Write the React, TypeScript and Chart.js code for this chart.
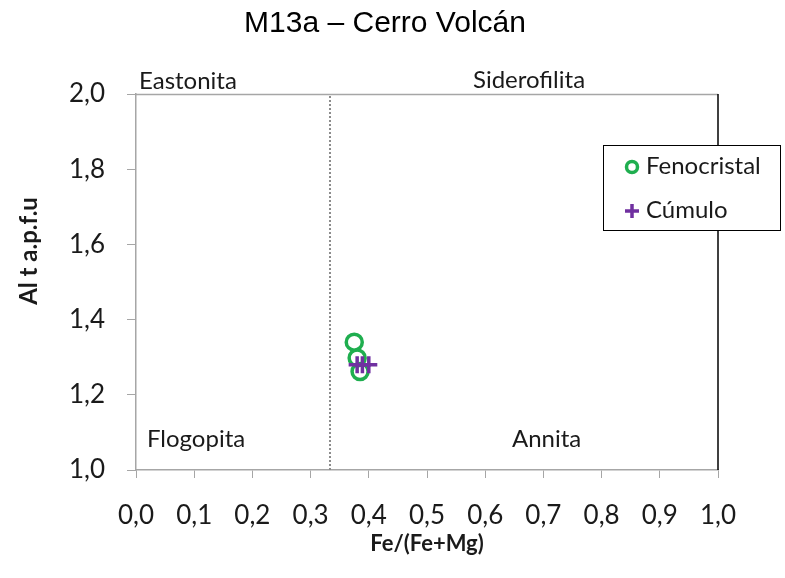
import React, { useEffect, useRef } from "react";
import { Chart, registerables } from "chart.js";

Chart.register(...registerables);

const TITLE = "M13a – Cerro Volcán";
const X_TITLE = "Fe/(Fe+Mg)";
const Y_TITLE = "Al t a.p.f.u";

const fenoX = [0.375, 0.38, 0.385];
const fenoY = [1.34, 1.298, 1.262];
const cumuloX = [0.38, 0.389, 0.4];
const cumuloY = [1.28, 1.28, 1.28];
const dividerX = [1 / 3, 1 / 3];
const dividerY = [1.0, 2.0];

const regionLabels = ["Eastonita", "Siderofilita", "Flogopita", "Annita"];
const legendLabels = ["Fenocristal", "Cúmulo"];

const GREEN = "#1fae4f";
const PURPLE = "#7030a0";
const TEXT = "#1a1a1a";
const FONT = "Lato, 'Open Sans', sans-serif";

const fmt = (v: number) => Number(v).toFixed(1).replace(".", ",");

const overlay = {
  id: "overlay",
  afterDraw(chart: any) {
    const { ctx, chartArea } = chart;
    const { left, right, top, bottom } = chartArea;
    ctx.save();
    // title
    ctx.fillStyle = "#000";
    ctx.font = "30px 'Liberation Sans', Arial, sans-serif";
    ctx.textAlign = "center";
    ctx.textBaseline = "middle";
    ctx.fillText(TITLE, 385, 24);

    // y-axis title
    ctx.save();
    ctx.translate(29, 251);
    ctx.rotate(-Math.PI / 2);
    ctx.fillStyle = TEXT;
    ctx.font = `bold 24px ${FONT}`;
    ctx.textAlign = "center";
    ctx.textBaseline = "middle";
    ctx.fillText(Y_TITLE, 0, 0);
    ctx.restore();

    // top border (gray) and right border (black)
    ctx.strokeStyle = "#a6a6a6";
    ctx.lineWidth = 1.5;
    ctx.beginPath();
    ctx.moveTo(left, top + 0.5);
    ctx.lineTo(right, top + 0.5);
    ctx.stroke();
    ctx.strokeStyle = "#000";
    ctx.lineWidth = 1.5;
    ctx.beginPath();
    ctx.moveTo(right, top);
    ctx.lineTo(right, bottom);
    ctx.stroke();

    // region labels
    ctx.fillStyle = TEXT;
    ctx.font = `24px ${FONT}`;
    ctx.textAlign = "left";
    ctx.textBaseline = "alphabetic";
    ctx.fillText(regionLabels[0], 139, 89);
    ctx.fillText(regionLabels[1], 473, 88);
    ctx.fillText(regionLabels[2], 147, 447);
    ctx.fillText(regionLabels[3], 512, 447);

    // legend
    ctx.fillStyle = "#fff";
    ctx.fillRect(603, 145, 178, 86);
    ctx.strokeStyle = "#000";
    ctx.lineWidth = 1;
    ctx.strokeRect(603.5, 145.5, 177, 85);
    ctx.strokeStyle = GREEN;
    ctx.lineWidth = 3.5;
    ctx.beginPath();
    ctx.arc(632, 167, 5.5, 0, Math.PI * 2);
    ctx.stroke();
    ctx.strokeStyle = PURPLE;
    ctx.beginPath();
    ctx.moveTo(625, 211);
    ctx.lineTo(639, 211);
    ctx.moveTo(632, 204);
    ctx.lineTo(632, 218);
    ctx.stroke();
    ctx.fillStyle = TEXT;
    ctx.font = `24px ${FONT}`;
    ctx.textBaseline = "middle";
    ctx.fillText(legendLabels[0], 646, 166);
    ctx.fillText(legendLabels[1], 646, 210);
    ctx.restore();
  },
};

export default function App() {
  const ref = useRef<HTMLCanvasElement | null>(null);
  useEffect(() => {
    if (!ref.current) return;
    const chart = new Chart(ref.current, {
      type: "scatter",
      data: {
        datasets: [
          {
            label: legendLabels[1],
            data: cumuloX.map((x, i) => ({ x, y: cumuloY[i] })),
            pointStyle: "cross",
            pointRadius: 8.5,
            borderWidth: 3.5,
            borderColor: PURPLE,
            backgroundColor: PURPLE,
            order: 0,
          },
          {
            label: legendLabels[0],
            data: fenoX.map((x, i) => ({ x, y: fenoY[i] })),
            pointStyle: "circle",
            pointRadius: 8,
            borderWidth: 3.5,
            borderColor: GREEN,
            backgroundColor: "rgba(0,0,0,0)",
            order: 1,
          },
          {
            label: "divider",
            data: dividerX.map((x, i) => ({ x, y: dividerY[i] })),
            showLine: true,
            pointRadius: 0,
            borderColor: "#8c8c8c",
            borderWidth: 2,
            borderDash: [2, 2],
            order: 2,
          },
        ],
      },
      options: {
        animation: false,
        responsive: true,
        maintainAspectRatio: false,
        layout: { padding: { top: 94, right: 67, left: 0, bottom: 0 } },
        plugins: { legend: { display: false }, tooltip: { enabled: false } },
        scales: {
          x: {
            type: "linear",
            min: 0,
            max: 1,
            afterFit: (s: any) => {
              s.height = 108;
            },
            grid: { drawOnChartArea: false, drawTicks: true, tickLength: 8, color: "#a6a6a6" },
            border: { display: true, color: "#a6a6a6", width: 1.5 },
            ticks: {
              stepSize: 0.1,
              autoSkip: false,
              maxRotation: 0,
              padding: 22,
              color: TEXT,
              font: { family: FONT, size: 26 },
              callback: (v: any) => fmt(v),
            },
            title: {
              display: true,
              text: X_TITLE,
              color: TEXT,
              font: { family: FONT, size: 22, weight: "bold" },
              padding: { top: 0, bottom: 21 },
            },
          },
          y: {
            type: "linear",
            min: 1,
            max: 2,
            afterFit: (s: any) => {
              s.width = 136;
            },
            grid: { drawOnChartArea: false, drawTicks: true, tickLength: 9, color: "#a6a6a6" },
            border: { display: true, color: "#a6a6a6", width: 1.5 },
            ticks: {
              stepSize: 0.2,
              autoSkip: false,
              padding: 22,
              color: TEXT,
              font: { family: FONT, size: 26 },
              callback: (v: any) => fmt(v),
            },
            title: { display: false },
          },
        },
      },
      plugins: [overlay],
    });
    return () => chart.destroy();
  }, []);
  return (
    <div style={{ position: "fixed", left: 0, top: 0, width: 785, height: 578, background: "#fff" }}>
      <canvas ref={ref} />
    </div>
  );
}
